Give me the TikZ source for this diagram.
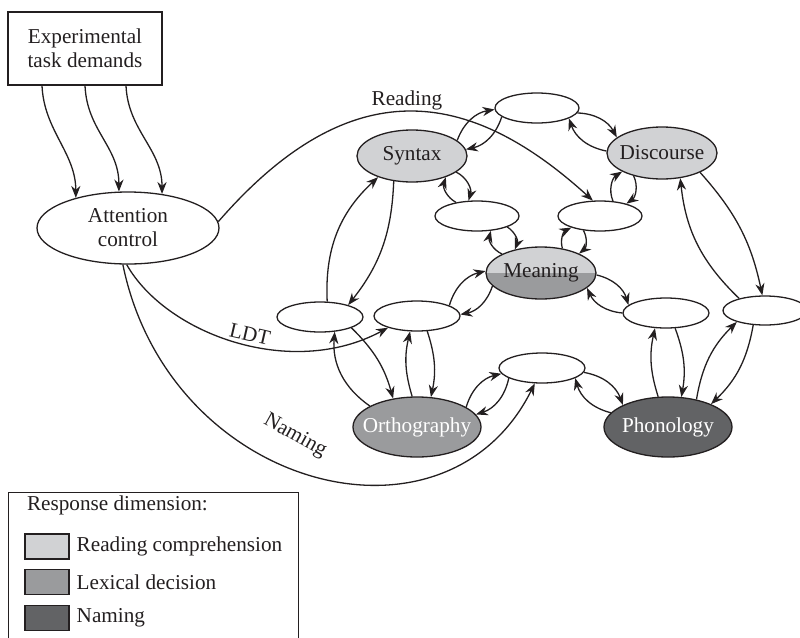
\documentclass[tikz,border=0pt]{standalone}
\usepackage{fontspec}
\setmainfont{Liberation Serif}
\usetikzlibrary{shapes.geometric,arrows.meta}
\definecolor{lightg}{HTML}{D1D2D4}
\definecolor{midg}{HTML}{9A9B9D}
\definecolor{darkg}{HTML}{626365}
\definecolor{ink}{HTML}{231F20}
\begin{document}
\begin{tikzpicture}[x=0.5pt,y=0.5pt,
  font=\fontsize{10.6}{12}\selectfont,
  every node/.style={text=ink},
  oval/.style={ellipse, draw=ink, line width=0.65pt, inner sep=0pt},
  arr/.style={draw=ink, -{Stealth[length=6pt,width=4.6pt]}, line width=0.65pt},
  bl/.style={arr, bend left=#1}, bl/.default=30,
  swatch/.style={draw=ink, line width=0.65pt, minimum width=22pt, minimum height=12.5pt, inner sep=0pt}]
\useasboundingbox (0,0) rectangle (800,-638);

% nodes
\node[draw=ink, line width=0.65pt, minimum width=77pt, minimum height=36.5pt, align=center] (task) at (85,-48.5) {Experimental\\task demands};
\node[oval, minimum width=91pt, minimum height=36pt, label={[align=center]center:Attention\\control}] (att) at (128,-228) {};
\node[oval, fill=lightg, minimum width=55pt, minimum height=26pt, label=center:Syntax] (syn) at (412,-156) {};
\node[oval, minimum width=42pt, minimum height=15pt] (tp) at (537,-108) {};
\node[oval, fill=lightg, minimum width=55pt, minimum height=26pt, label=center:Discourse] (dis) at (662,-153) {};
\node[oval, minimum width=42pt, minimum height=15pt] (LM) at (477,-216) {};
\node[oval, minimum width=42pt, minimum height=15pt] (RM) at (600,-216) {};
\node[oval, fill=lightg, minimum width=55pt, minimum height=26pt,
  path picture={\fill[midg] (path picture bounding box.west) rectangle (path picture bounding box.south east);},
  label=center:Meaning] (mea) at (541,-273) {};
\node[oval, minimum width=43pt, minimum height=15pt] (RA) at (320,-317) {};
\node[oval, minimum width=43pt, minimum height=15pt] (RB) at (417,-316) {};
\node[oval, minimum width=43pt, minimum height=15pt] (RS) at (666,-313) {};
\node[oval, minimum width=42pt, minimum height=14.5pt] (FR) at (765,-310.5) {};
\node[oval, minimum width=43pt, minimum height=15pt] (LS) at (542,-368) {};
\node[oval, fill=midg, minimum width=64pt, minimum height=30pt, label={[text=white]center:Orthography}] (orth) at (417,-427) {};
\node[oval, fill=darkg, minimum width=64pt, minimum height=30pt, label={[text=white]center:Phonology}] (phon) at (668,-427) {};

% task demands to attention
\draw[arr] ([xshift=-21.5pt]task.south) .. controls +(2,-45) and +(0,45) .. (att.150);
\draw[arr] (task.south) .. controls +(2,-45) and +(0,45) .. (att.104);
\draw[arr] ([xshift=20.5pt]task.south) .. controls +(2,-45) and +(0,45) .. (att.45);

% task routes
\draw[arr] (att.4) .. controls (350,-70) and (468,-87) .. (RM.115);
\node (lread) at (407,-100) {Reading};
\draw[arr] (att.268) .. controls (166,-334) and (291,-380) .. (RB.202);
\node[rotate=-13] (lldt) at (250,-334) {LDT};
\draw[arr] (att.262) .. controls (169,-490) and (446,-562) .. (LS.245);
\node[rotate=-29] (lnam) at (295,-436) {Naming};

% reciprocal links
\draw[bl] (syn.19) to (tp.182);
\draw[bl] (tp.194) to (syn.7);
\draw[bl] (tp.-7) to (dis.161);
\draw[bl] (dis.178) to (tp.-18);
\draw[bl=40] (LM.147) to (syn.-32);
\draw[bl=40] (syn.-20) to (LM.119);
\draw[bl=40] (RM.49) to (dis.205);
\draw[bl=40] (dis.219) to (RM.25);
\draw[bl=40] (mea.154) to (LM.-47);
\draw[bl=40] (LM.-20) to (mea.138);
\draw[bl=40] (mea.49) to (RM.202);
\draw[bl=40] (RM.221) to (mea.27);
\draw[bl] (RB.18) to (mea.178);
\draw[bl] (mea.195) to (RB.2);
\draw[bl] (mea.-2) to (RS.168);
\draw[bl] (RS.180) to (mea.-18);
\draw[bl=15] (dis.-27) to (FR.100);
\draw[bl=20] (FR.155) to (dis.-54);
\draw[bl=25] (RA.65) to (syn.212);
\draw[bl=18] (syn.234) to (RA.23);
\draw[bl=30] (orth.156) to (RA.-45);
\draw[bl=15] (RA.-19) to (orth.130);
\draw[bl=15] (orth.99) to (RB.246);
\draw[bl=15] (RB.-56) to (orth.65);
\draw[bl] (orth.22) to (LS.188);
\draw[bl] (LS.197) to (orth.12);
\draw[bl] (LS.-6) to (phon.154);
\draw[bl] (phon.166) to (LS.-17);
\draw[bl=15] (phon.108) to (RS.234);
\draw[bl=15] (RS.-59) to (phon.66);
\draw[bl=18] (phon.44) to (FR.202);
\draw[bl=18] (FR.231) to (phon.28);

% legend
\node[draw=ink, line width=0.65pt, anchor=north west, minimum width=145pt, minimum height=80pt, inner sep=0pt] (legend) at (8,-492) {};
\node[anchor=west] (lt) at (20,-505) {Response dimension:};
\node[swatch, fill=lightg] (s1) at (47,-546.5) {};
\node[swatch, fill=midg] (s2) at (47,-582) {};
\node[swatch, fill=darkg] (s3) at (47,-618) {};
\node[anchor=west] (t1) at (s1.east) {Reading comprehension};
\node[anchor=west] (t2) at (s2.east) {Lexical decision};
\node[anchor=west] (t3) at (s3.east) {Naming};
\end{tikzpicture}
\end{document}
